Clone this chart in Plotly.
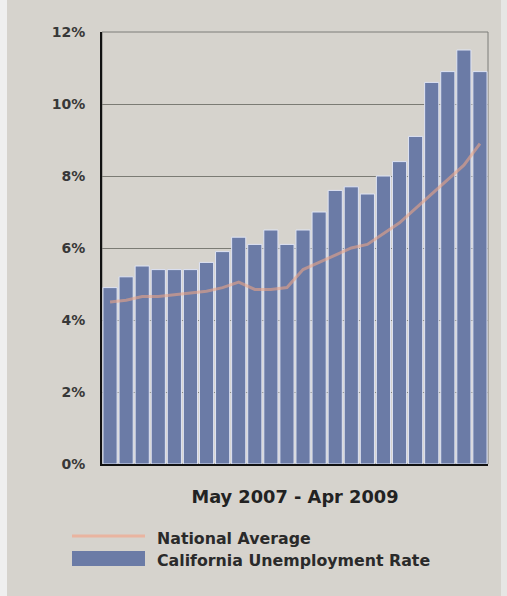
import plotly.graph_objects as go

months = ["May 2007", "Jun 2007", "Jul 2007", "Aug 2007", "Sep 2007", "Oct 2007",
          "Nov 2007", "Dec 2007", "Jan 2008", "Feb 2008", "Mar 2008", "Apr 2008",
          "May 2008", "Jun 2008", "Jul 2008", "Aug 2008", "Sep 2008", "Oct 2008",
          "Nov 2008", "Dec 2008", "Jan 2009", "Feb 2009", "Mar 2009", "Apr 2009"]
california = [4.9, 5.2, 5.5, 5.4, 5.4, 5.4, 5.6, 5.9, 6.3, 6.1, 6.5, 6.1,
              6.5, 7.0, 7.6, 7.7, 7.5, 8.0, 8.4, 9.1, 10.6, 10.9, 11.5, 10.9]
national = [4.5, 4.55, 4.65, 4.65, 4.7, 4.75, 4.8, 4.9, 5.05, 4.85, 4.85, 4.9,
            5.4, 5.6, 5.8, 6.0, 6.1, 6.4, 6.7, 7.1, 7.5, 7.9, 8.3, 8.9]
y_ticks = [0, 2, 4, 6, 8, 10, 12]
x_title = "May 2007 - Apr 2009"

BG = "#d6d3cd"
BAR = "#6b7ba6"
LINE = "#eaa487"
FONT = "DejaVu Sans"

fig = go.Figure()
fig.add_trace(go.Bar(x=months, y=california, name="California Unemployment Rate",
                     marker=dict(color=BAR, line=dict(color="#dfe4f4", width=1))))
fig.add_trace(go.Scatter(x=months, y=national, name="National Average", mode="lines",
                         line=dict(color=LINE, width=3), opacity=0.6))

W, H = 507, 596
L, R, T, B = 102, 19, 32, 132
pw, ph = W - L - R, H - T - B

def px(x):
    return (x - L) / pw

def py(y):
    return (H - B - y) / ph

shapes = [
    dict(type="rect", xref="paper", yref="paper", x0=px(0), x1=px(7), y0=py(H), y1=py(0),
         fillcolor="#efefef", line=dict(width=0), layer="below"),
    dict(type="rect", xref="paper", yref="paper", x0=px(501), x1=px(W), y0=py(H), y1=py(0),
         fillcolor="#e6e6e4", line=dict(width=0), layer="below"),
    dict(type="rect", xref="paper", yref="paper", x0=0, x1=1, y0=0, y1=1,
         line=dict(color="#7d7d78", width=1), layer="below"),
    dict(type="line", xref="paper", yref="paper", x0=px(72), x1=px(145), y0=py(536), y1=py(536),
         line=dict(color="#e9b4a0", width=3)),
    dict(type="rect", xref="paper", yref="paper", x0=px(72), x1=px(145), y0=py(566), y1=py(551),
         fillcolor=BAR, line=dict(width=0)),
]
font_leg = dict(family=FONT, size=15.8, color="#2a2a2a", weight="bold")
annotations = [
    dict(text="National Average", xref="paper", yref="paper", x=px(155), y=py(538),
         xanchor="left", yanchor="middle", showarrow=False, font=font_leg),
    dict(text="California Unemployment Rate", xref="paper", yref="paper", x=px(155), y=py(560),
         xanchor="left", yanchor="middle", showarrow=False, font=font_leg),
]

fig.update_layout(
    width=W, height=H,
    margin=dict(l=L, r=R, t=T, b=B),
    paper_bgcolor=BG, plot_bgcolor=BG,
    showlegend=False,
    bargap=0.12,
    shapes=shapes, annotations=annotations,
    xaxis=dict(showticklabels=False, ticks="", showgrid=False,
               showline=True, linecolor="#111111", linewidth=2,
               title=dict(text=x_title, standoff=26,
                          font=dict(family=FONT, size=17.8, color="#222222", weight="bold"))),
    yaxis=dict(range=[0, 12], tickvals=y_ticks, ticktext=[f"{v}%" for v in y_ticks],
               showgrid=True, gridcolor="#7b7b74", gridwidth=1,
               showline=True, linecolor="#111111", linewidth=2,
               zeroline=False, ticks="", ticklabelstandoff=12,
               tickfont=dict(family=FONT, size=14, color="#383838", weight="bold")),
)

fig.write_html("out.html")
